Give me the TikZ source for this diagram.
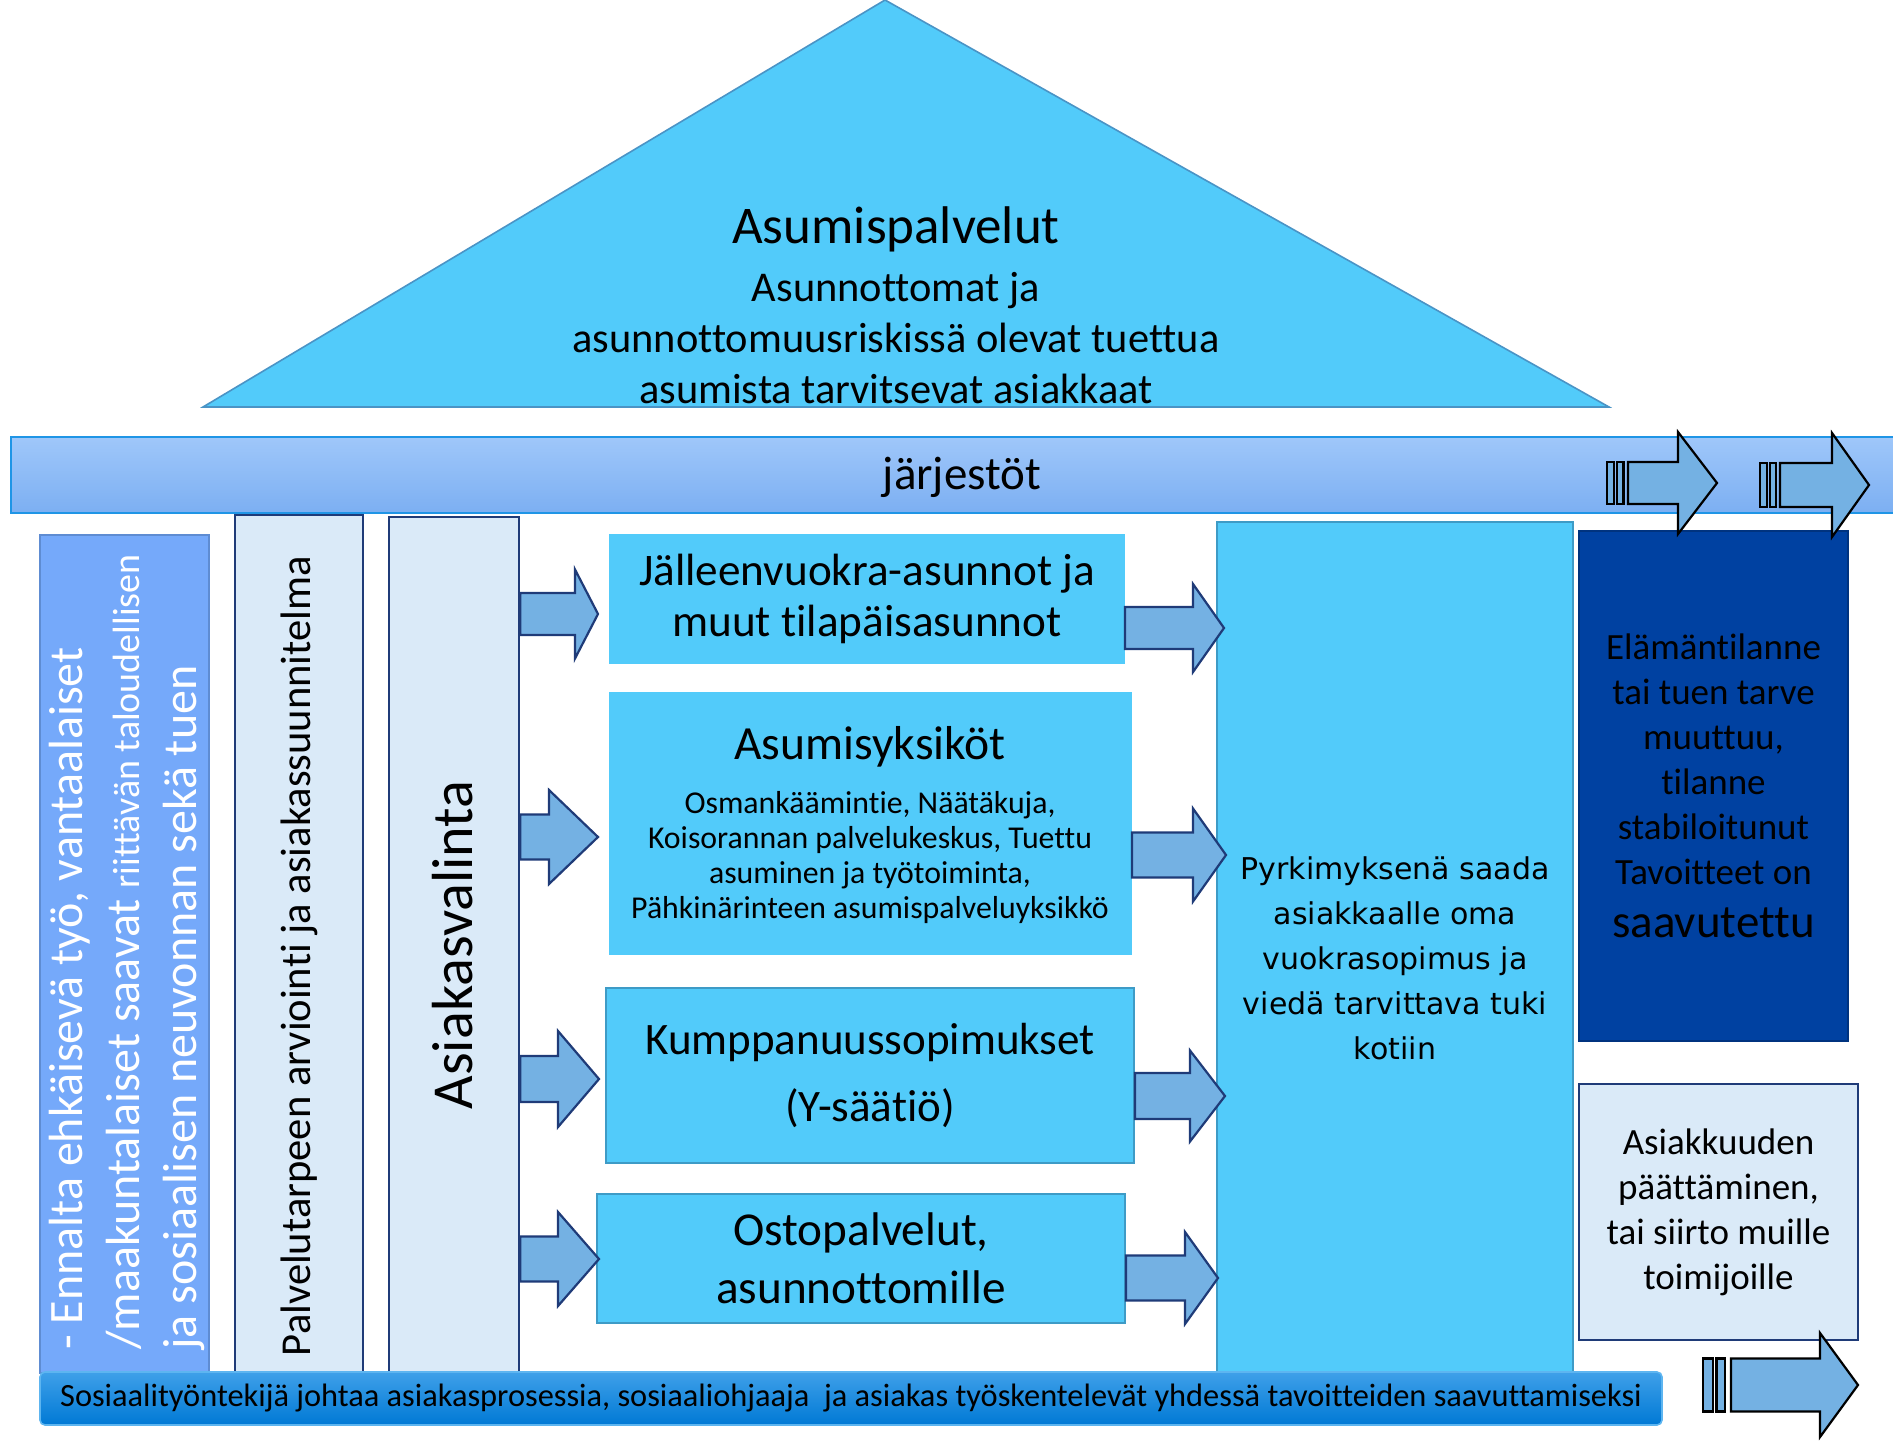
\documentclass[tikz,border=0pt]{standalone}
\usepackage{fontspec}
\setmainfont{Carlito}[Ligatures=NoCommon]
\newfontfamily\verdanaLike{DejaVu Sans}
\usepackage{tikz}
\usetikzlibrary{calc}
\definecolor{cyanFill}{HTML}{52CBFA}
\definecolor{roofLine}{HTML}{4A94C6}
\definecolor{cyanLine}{HTML}{3E9BC6}
\definecolor{barTop}{HTML}{9FC7FA}
\definecolor{barBottom}{HTML}{7CAFF2}
\definecolor{barLine}{HTML}{1F95E6}
\definecolor{sideFill}{HTML}{75A9FA}
\definecolor{sideLine}{HTML}{5E8CD2}
\definecolor{paleFill}{HTML}{DAEAF8}
\definecolor{navyLine}{HTML}{1F3B78}
\definecolor{darkFill}{HTML}{0041A1}
\definecolor{darkLine}{HTML}{00337F}
\definecolor{arrowFill}{HTML}{74B1E3}
\definecolor{footTop}{HTML}{3FA0E9}
\definecolor{footBottom}{HTML}{0079D5}
\definecolor{footLine}{HTML}{5DB5F0}

% block arrow: start, tip, head length, body half, head half
\newcommand{\blockarrow}[5]{%
  \draw[blockArrow] ($#1+(0,#4)$) -- ($#2+(-#3,#4)$) -- ($#2+(-#3,#5)$) -- #2
    -- ($#2+(-#3,-#5)$) -- ($#2+(-#3,-#4)$) -- ($#1+(0,-#4)$) -- cycle;}
% striped arrow: position, body start, head base, tip, body half, head half
\newcommand{\stripedarrow}[6]{%
  \begin{scope}[shift={#1}]
    \draw[stripeArrow] (0,-#5) rectangle ({0.35*#2},#5);
    \draw[stripeArrow] ({0.48*#2},-#5) rectangle ({0.78*#2},#5);
    \draw[stripeArrow] (#2,-#5) -- (#3,-#5) -- (#3,-#6) -- (#4,0) -- (#3,#6) -- (#3,#5) -- (#2,#5) -- cycle;
  \end{scope}}

\begin{document}
\begin{tikzpicture}[x=0.5pt, y=-0.5pt,
    roofShape/.style={fill=cyanFill, draw=roofLine, line width=0.8pt},
    topBar/.style={rectangle, inner sep=0pt, top color=barTop, bottom color=barBottom, draw=barLine, line width=1pt},
    sideColumn/.style={rectangle, inner sep=0pt, fill=sideFill, draw=sideLine, line width=1.2pt},
    paleColumn/.style={rectangle, inner sep=0pt, fill=paleFill, draw=navyLine, line width=1.2pt},
    cyanBox/.style={rectangle, inner sep=0pt, fill=cyanFill, draw=#1, line width=1pt, align=center},
    cyanBox/.default=cyanFill,
    darkBox/.style={rectangle, inner sep=0pt, fill=darkFill, draw=darkLine, line width=1pt, align=center, font=\fontsize{18.5}{22.5}\selectfont},
    paleBox/.style={rectangle, inner sep=0pt, fill=paleFill, draw=navyLine, line width=1.2pt, align=center, font=\fontsize{18.5}{22.5}\selectfont},
    footBar/.style={rectangle, inner sep=0pt, rounded corners=2.5pt, top color=footTop, bottom color=footBottom, draw=footLine, line width=0.8pt},
    blockArrow/.style={fill=arrowFill, draw=navyLine, line width=1.1pt},
    stripeArrow/.style={fill=arrowFill, draw=black, line width=1.1pt}
]
    \useasboundingbox (0,0) rectangle (1893,1440);
    \fill[white] (0,0) rectangle (1893,1440);

    % roof
    \draw[roofShape] (203,407) -- (885,0) -- (1609,407) -- cycle;
    \node[font=\fontsize{26.5}{31}\selectfont] (roofTitle) at (896,229) {Asumispalvelut};
    \node[align=center, font=\fontsize{21.2}{25.5}\selectfont] (roofText) at (896,338) {Asunnottomat ja\\asunnottomuusriskissä olevat tuettua\\asumista tarvitsevat asiakkaat};

    \node[topBar, minimum width=944.5pt, minimum height=38pt] (jarjestot) at (955.5,475) {};
    \node[font=\fontsize{23.5}{28}\selectfont] (jarjestotText) at (962,477) {järjestöt};

    % columns
    \node[sideColumn, minimum width=84.5pt, minimum height=419pt] (ennalta) at (124.5,954) {};
    \node[rotate=90, anchor=west, align=left, text=white, inner sep=0pt, font=\fontsize{24}{28.5}\selectfont] (ennaltaText) at (127,1350) {- Ennalta ehkäisevä työ, vantaalaiset\\/maakuntalaiset saavat {\fontsize{19}{22}\selectfont riittävän taloudellisen}\\ja sosiaalisen neuvonnan sekä tuen};
    \node[paleColumn, minimum width=64pt, minimum height=429pt] (arviointi) at (299,944) {};
    \node[rotate=90, font=\fontsize{21.3}{25}\selectfont] (arviointiText) at (299,956) {Palvelutarpeen arviointi ja asiakassuunnitelma};
    \node[paleColumn, minimum width=65pt, minimum height=428pt] (valinta) at (454,945) {};
    \node[rotate=90, font=\fontsize{29}{34}\selectfont] (valintaText) at (453,945) {Asiakasvalinta};

    % housing options
    \node[cyanBox, minimum width=257pt, minimum height=64pt, font=\fontsize{22.6}{25.5}\selectfont] (jvuokra) at (867,599) {Jälleenvuokra-asunnot ja\\muut tilapäisasunnot};
    \node[cyanBox, minimum width=260.5pt, minimum height=130.5pt] (asumis) at (870.5,823.5) {};
    \node[font=\fontsize{23.8}{28}\selectfont] (asumisTitle) at (870,747) {Asumisyksiköt};
    \node[align=center, font=\fontsize{15.9}{17.5}\selectfont] (asumisList) at (870,858) {Osmankäämintie, Näätäkuja,\\Koisorannan palvelukeskus, Tuettu\\asuminen ja työtoiminta,\\Pähkinärinteen asumispalveluyksikkö};
    \node[cyanBox=cyanLine, minimum width=264pt, minimum height=87.5pt, font=\fontsize{22.5}{33.5}\selectfont] (kumppanuus) at (870,1075.5) {Kumppanuussopimukset\\(Y-säätiö)};
    \node[cyanBox=cyanLine, minimum width=264pt, minimum height=64.5pt, font=\fontsize{23.6}{29}\selectfont] (osto) at (861,1258.5) {Ostopalvelut,\\asunnottomille};
    \node[cyanBox=cyanLine, minimum width=178pt, minimum height=425.5pt] (pyrkimys) at (1395,947.5) {};
    \node[align=center, font=\verdanaLike\fontsize{15}{22.5}\selectfont] (pyrkimysText) at (1395,958) {Pyrkimyksenä saada\\asiakkaalle oma\\vuokrasopimus ja\\viedä tarvittava tuki\\kotiin};

    \node[darkBox, minimum width=134.5pt, minimum height=255pt] (tilanne) at (1713.5,786) {Elämäntilanne\\tai tuen tarve\\muuttuu,\\tilanne\\stabiloitunut\\Tavoitteet on\\[4pt]{\fontsize{23.5}{26}\selectfont saavutettu}};
    \node[paleBox, minimum width=139.5pt, minimum height=128pt] (asiakkuus) at (1718.5,1212) {Asiakkuuden\\päättäminen,\\tai siirto muille\\toimijoille};

    % arrows
    \coordinate (inJ) at (598,614);
    \coordinate (inA) at (598,837);
    \coordinate (inK) at (599,1079);
    \coordinate (inO) at (599,1259);
    \coordinate (outJ) at (1224,628);
    \coordinate (outA) at (1226,855);
    \coordinate (outK) at (1225,1096);
    \coordinate (outO) at (1218,1278);
    \blockarrow{(valinta.east |- inJ)}{(inJ)}{23}{21}{44.5}
    \blockarrow{(valinta.east |- inA)}{(inA)}{49}{22.5}{47}
    \blockarrow{(valinta.east |- inK)}{(inK)}{41}{23}{48}
    \blockarrow{(valinta.east |- inO)}{(inO)}{41}{22.5}{47}
    \blockarrow{(jvuokra.east |- outJ)}{(outJ)}{31}{21}{44}
    \blockarrow{(asumis.east |- outA)}{(outA)}{33}{22.5}{46.5}
    \blockarrow{(kumppanuus.east |- outK)}{(outK)}{35}{23}{45.5}
    \blockarrow{(osto.east |- outO)}{(outO)}{33}{22.5}{46}

    \stripedarrow{(1607,483)}{21}{71}{110}{21}{51}
    \stripedarrow{(1760,485)}{20}{72}{109}{22}{52}
    \stripedarrow{(1703,1385)}{28}{117}{155}{26.5}{52}

    \node[footBar, minimum width=811pt, minimum height=26.5pt, font=\fontsize{16.2}{19}\selectfont] (prosessi) at (851,1398.5) {Sosiaalityöntekijä johtaa asiakasprosessia, sosiaaliohjaaja\ \ ja asiakas työskentelevät yhdessä tavoitteiden saavuttamiseksi};
\end{tikzpicture}
\end{document}
